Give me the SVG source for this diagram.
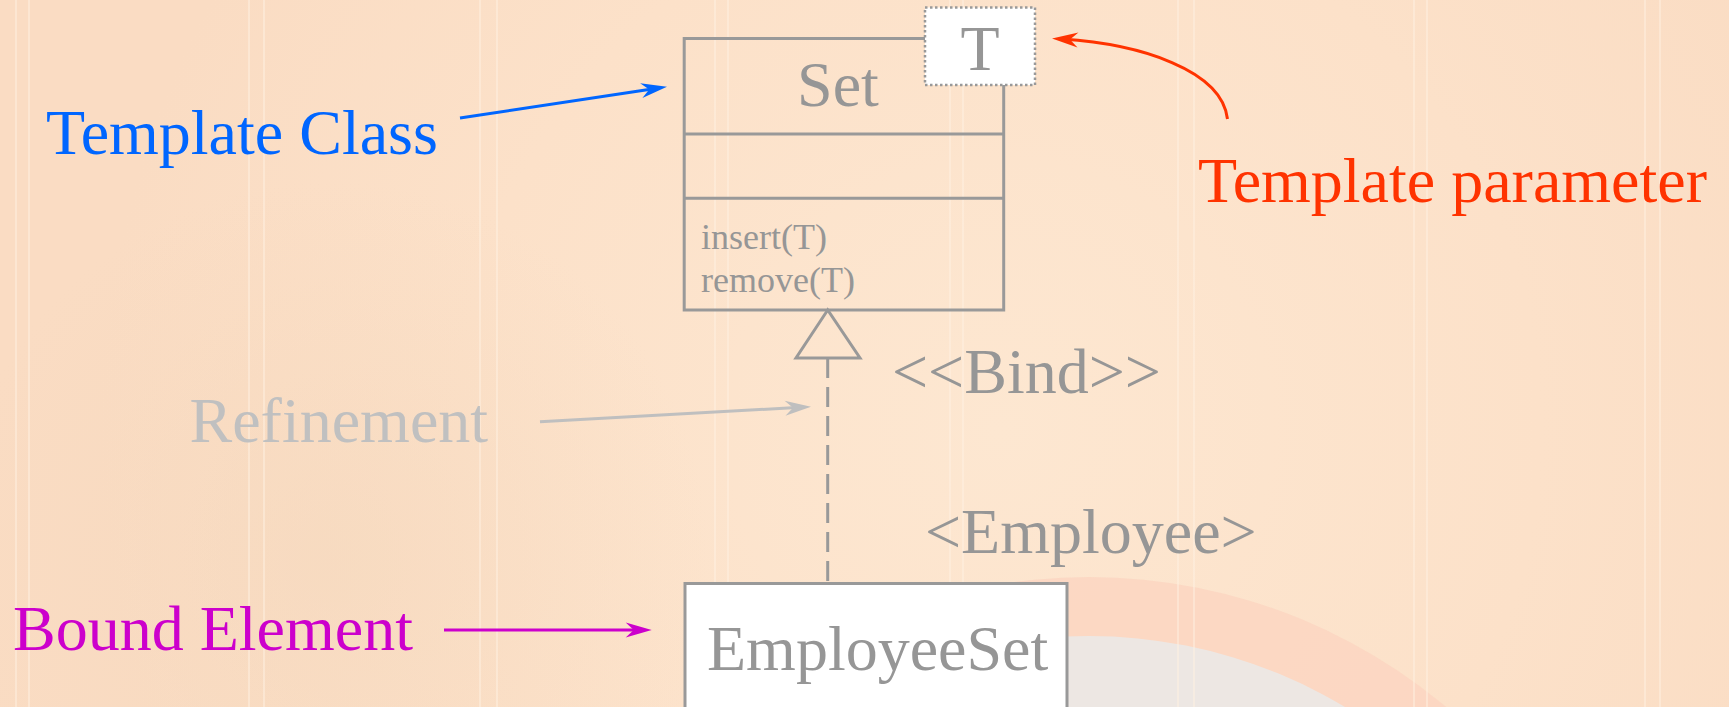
<svg xmlns="http://www.w3.org/2000/svg" width="1729" height="707" viewBox="0 0 1729 707">
  <defs>
    <radialGradient id="bgGlow" cx="1000" cy="430" r="900" gradientUnits="userSpaceOnUse">
      <stop offset="0" stop-color="#FDE7D1"/>
      <stop offset="0.6" stop-color="#FCE1C9"/>
      <stop offset="1" stop-color="#FADCC3"/>
    </radialGradient>
    <radialGradient id="brush" cx="330" cy="560" r="380" gradientUnits="userSpaceOnUse">
      <stop offset="0" stop-color="#F3D6BA" stop-opacity="0.5"/>
      <stop offset="1" stop-color="#F3D6BA" stop-opacity="0"/>
    </radialGradient>
    <marker id="head-blue" markerUnits="userSpaceOnUse" markerWidth="30" markerHeight="20" orient="auto" overflow="visible">
      <path d="M10,0 L-16,-7.5 L-8,0 L-16,7.5 Z" fill="#0066FF"/>
    </marker>
    <marker id="head-red" markerUnits="userSpaceOnUse" markerWidth="30" markerHeight="20" orient="auto" overflow="visible">
      <path d="M10,0 L-16,-7.5 L-8,0 L-16,7.5 Z" fill="#FF3300"/>
    </marker>
    <marker id="head-gray" markerUnits="userSpaceOnUse" markerWidth="30" markerHeight="20" orient="auto" overflow="visible">
      <path d="M10,0 L-16,-7.5 L-8,0 L-16,7.5 Z" fill="#BFBFBF"/>
    </marker>
    <marker id="head-magenta" markerUnits="userSpaceOnUse" markerWidth="30" markerHeight="20" orient="auto" overflow="visible">
      <path d="M10,0 L-16,-7.5 L-8,0 L-16,7.5 Z" fill="#CC00CC"/>
    </marker>
  </defs>
  <style>
    text { font-family: "Liberation Serif", "Times New Roman", serif; }
    .big { font-size: 64px; }
    .ops { font-size: 36px; fill: #969696; }
    .grey { fill: #969696; }
    .box { fill: none; stroke: #999999; stroke-width: 3; }
    .whitebox { fill: #FFFFFF; stroke: #999999; stroke-width: 3; }
    .stripe { stroke: #FFF1E2; stroke-width: 2; opacity: 0.5; }
    .conn { fill: none; stroke-width: 3; }
  </style>

  <!-- backdrop -->
  <g id="background">
    <rect x="0" y="0" width="1729" height="707" fill="url(#bgGlow)"/>
    <rect x="0" y="180" width="760" height="527" fill="url(#brush)"/>
    <circle cx="1089" cy="1133" r="556" fill="#FBD5C1" opacity="0.8"/>
    <circle cx="1089" cy="1133" r="497" fill="#EDE7E3"/>
    <g class="stripe">
      <line x1="16" y1="0" x2="16" y2="707"/>
      <line x1="29" y1="0" x2="29" y2="707"/>
      <line x1="249" y1="0" x2="249" y2="707"/>
      <line x1="264" y1="0" x2="264" y2="707"/>
      <line x1="480" y1="0" x2="480" y2="707"/>
      <line x1="497" y1="0" x2="497" y2="707"/>
      <line x1="715" y1="0" x2="715" y2="707"/>
      <line x1="728" y1="0" x2="728" y2="707"/>
      <line x1="950" y1="0" x2="950" y2="707"/>
      <line x1="963" y1="0" x2="963" y2="707"/>
      <line x1="1178" y1="0" x2="1178" y2="707"/>
      <line x1="1194" y1="0" x2="1194" y2="707"/>
      <line x1="1414" y1="0" x2="1414" y2="707"/>
      <line x1="1427" y1="0" x2="1427" y2="707"/>
      <line x1="1645" y1="0" x2="1645" y2="707"/>
      <line x1="1660" y1="0" x2="1660" y2="707"/>
    </g>
  </g>

  <!-- connectors -->
  <g id="connectors">
    <polygon class="box" points="827.7,310 796,358 860,358"/>
    <line class="box" x1="827.7" y1="358" x2="827.7" y2="583" stroke-dasharray="20 9"/>
    <line class="conn" x1="460" y1="118" x2="657.1" y2="88.2" stroke="#0066FF" marker-end="url(#head-blue)"/>
    <path class="conn" d="M1227.5,119 C1222,70 1140,44 1062,39.1" stroke="#FF3300" marker-end="url(#head-red)"/>
    <line class="conn" x1="540" y1="421.7" x2="801" y2="407.3" stroke="#BFBFBF" marker-end="url(#head-gray)"/>
    <line class="conn" x1="444" y1="630" x2="641.7" y2="630" stroke="#CC00CC" marker-end="url(#head-magenta)"/>
  </g>

  <!-- template class Set -->
  <g id="set-class">
    <rect class="box" x="684.2" y="38.5" width="319.5" height="271.5"/>
    <line class="box" x1="684.2" y1="134" x2="1003.7" y2="134"/>
    <line class="box" x1="684.2" y1="198.3" x2="1003.7" y2="198.3"/>
    <text class="big grey" x="838" y="106" text-anchor="middle">Set</text>
    <text class="ops" x="701" y="249">insert(T)</text>
    <text class="ops" x="701" y="292">remove(T)</text>
  </g>

  <!-- template parameter box -->
  <g id="param-T">
    <rect x="925" y="7.5" width="110" height="77.5" fill="#FFFFFF" stroke="#999999" stroke-width="2.5" stroke-dasharray="2.5 2.5"/>
    <text class="big grey" x="980" y="70" text-anchor="middle">T</text>
  </g>

  <!-- bound element -->
  <g id="employee-set">
    <rect class="whitebox" x="685" y="583.5" width="382" height="140"/>
    <text class="big grey" x="707" y="670">EmployeeSet</text>
  </g>

  <!-- binding labels -->
  <g id="bind-labels">
    <text class="big grey" x="892" y="393">&lt;&lt;Bind&gt;&gt;</text>
    <text class="big grey" x="925" y="553">&lt;Employee&gt;</text>
  </g>

  <!-- callouts -->
  <g id="label-template-class">
    <text class="big" x="46" y="154" fill="#0066FF">Template Class</text>
  </g>
  <g id="label-template-parameter">
    <text class="big" x="1198" y="201.7" fill="#FF3300">Template parameter</text>
  </g>
  <g id="label-refinement">
    <text class="big" x="189.5" y="441.7" fill="#C0C0C0">Refinement</text>
  </g>
  <g id="label-bound-element">
    <text class="big" x="13" y="650" fill="#CC00CC">Bound Element</text>
  </g>
</svg>
